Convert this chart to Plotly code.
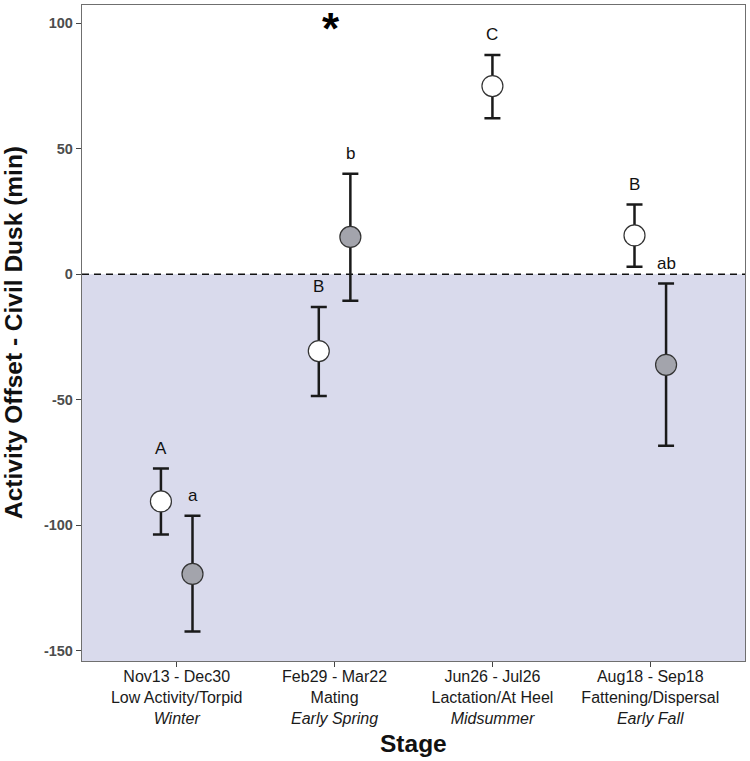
import plotly.graph_objects as go

# ---- data ----
stage_dates = ["Nov13 - Dec30", "Feb29 - Mar22", "Jun26 - Jul26", "Aug18 - Sep18"]
stage_names = ["Low Activity/Torpid", "Mating", "Lactation/At Heel", "Fattening/Dispersal"]
seasons = ["Winter", "Early Spring", "Midsummer", "Early Fall"]

# open (white) group
white_stage = [1, 2, 3, 4]
white_mean = [-90.5, -30.6, 75.0, 15.5]
white_low = [-103.7, -48.5, 62.2, 3.0]
white_high = [-77.4, -13.0, 87.4, 27.8]
white_letters = ["A", "B", "C", "B"]

# filled (gray) group
gray_stage = [1, 2, 4]
gray_mean = [-119.4, 14.9, -36.1]
gray_low = [-142.3, -10.5, -68.3]
gray_high = [-96.2, 40.1, -3.7]
gray_letters = ["a", "b", "ab"]

star_stage = 2
star_label = "*"

y_ticks = [-150, -100, -50, 0, 50, 100]
y_range = [-154.1, 107.3]

# ---- styling ----
FONT = "Liberation Sans, Arial, sans-serif"
DODGE = 0.1
LABEL_PAD = 8

def xpos(stages, group_stages_other, sign):
    out = []
    for s in stages:
        if s in group_stages_other:
            out.append(s + sign * DODGE)
        else:
            out.append(s)
    return out

wx = xpos(white_stage, gray_stage, -1)
gx = xpos(gray_stage, white_stage, +1)

fig = go.Figure()

err_style = dict(color="#1a1a1a", thickness=2.5, width=8)

fig.add_trace(go.Scatter(
    x=wx, y=white_mean, mode="markers",
    marker=dict(size=21, color="white", line=dict(color="#333333", width=1.2)),
    error_y=dict(type="data", symmetric=False,
                 array=[h - m for h, m in zip(white_high, white_mean)],
                 arrayminus=[m - l for m, l in zip(white_mean, white_low)],
                 **err_style),
    showlegend=False, hoverinfo="skip"))

fig.add_trace(go.Scatter(
    x=gx, y=gray_mean, mode="markers",
    marker=dict(size=21, color="#A3A4AC", line=dict(color="#333333", width=1.2)),
    error_y=dict(type="data", symmetric=False,
                 array=[h - m for h, m in zip(gray_high, gray_mean)],
                 arrayminus=[m - l for m, l in zip(gray_mean, gray_low)],
                 **err_style),
    showlegend=False, hoverinfo="skip"))

annotations = []
for x, h, t in zip(wx, white_high, white_letters):
    annotations.append(dict(x=x, y=h + LABEL_PAD, text=t, showarrow=False,
                            font=dict(family=FONT, size=17, color="#111111")))
for x, h, t in zip(gx, gray_high, gray_letters):
    annotations.append(dict(x=x, y=h + LABEL_PAD, text=t, showarrow=False,
                            font=dict(family=FONT, size=17, color="#111111")))

annotations.append(dict(x=star_stage - 0.02, y=y_range[1], yanchor="top", yshift=3,
                        text="<b>" + star_label + "</b>", showarrow=False,
                        font=dict(family=FONT, size=44, color="black")))

# axis titles
annotations.append(dict(xref="paper", yref="paper", x=0.5, y=0, yshift=-82,
                        yanchor="middle", text="<b>Stage</b>", showarrow=False,
                        font=dict(family=FONT, size=24.5, color="#111111")))
annotations.append(dict(xref="paper", yref="paper", x=0, y=0.5, xshift=-69,
                        xanchor="center", textangle=-90,
                        text="<b>Activity Offset - Civil Dusk (min)</b>", showarrow=False,
                        font=dict(family=FONT, size=24.5, color="#111111")))

shapes = [
    dict(type="rect", xref="paper", yref="y", x0=0, x1=1, y0=y_range[0], y1=0,
         fillcolor="#D9DAEC", line=dict(width=0), layer="below"),
    dict(type="line", xref="paper", yref="y", x0=0, x1=1, y0=0, y1=0,
         line=dict(color="#111111", width=1.6, dash="7px,5px"), layer="below"),
]

ticktext = [f"{d}<br>{n}<br><i>{s}</i>" for d, n, s in zip(stage_dates, stage_names, seasons)]

fig.update_layout(
    width=750, height=761,
    margin=dict(l=82, r=5, t=5, b=100),
    plot_bgcolor="white", paper_bgcolor="white",
    font=dict(family=FONT),
    annotations=annotations, shapes=shapes,
    xaxis=dict(range=[0.4, 4.6], tickvals=[1, 2, 3, 4], ticktext=ticktext,
               automargin=False,
               showgrid=False, zeroline=False,
               showline=True, mirror=True, linecolor="#6f6f6f", linewidth=1.3,
               ticks="outside", ticklen=5, tickwidth=1.3, tickcolor="#444444",
               ticklabelstandoff=-4,
               tickfont=dict(family=FONT, size=16, color="#1a1a1a")),
    yaxis=dict(range=y_range, tickvals=y_ticks,
               ticktext=[f"<b>{v}</b>" for v in y_ticks],
               automargin=False,
               showgrid=False, zeroline=False,
               showline=True, mirror=True, linecolor="#6f6f6f", linewidth=1.3,
               ticks="outside", ticklen=5, tickwidth=1.3, tickcolor="#444444",
               tickfont=dict(family=FONT, size=14.5, color="#4D4D4D")),
)

fig.write_html("out.html", config={"displayModeBar": False},
               post_script="document.body.style.margin='0';document.body.style.overflow='hidden';")
